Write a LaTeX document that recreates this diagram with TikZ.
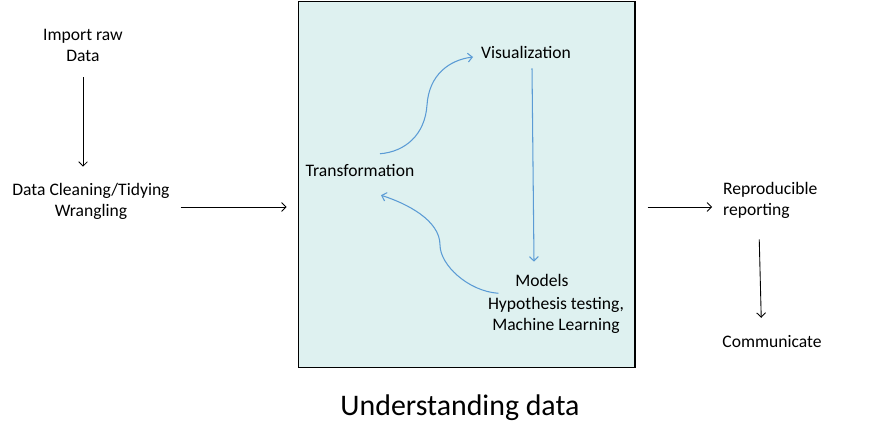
\documentclass[tikz,border=0pt]{standalone}
\usepackage{fontspec}
\setmainfont{Carlito}
\usepackage{xcolor}
\usetikzlibrary{arrows.meta,calc}
\definecolor{panelfill}{HTML}{DEF1F0}
\definecolor{loopblue}{HTML}{5B9BD5}
\tikzset{
	stage/.style={inner sep=1pt, align=center, font=\fontsize{10}{12}\selectfont},
	flow/.style={-{Straight Barb[length=2.5pt,width=5pt]}, line width=0.5pt, black},
	loopline/.style={-{Straight Barb[length=2.5pt,width=5pt]}, line width=0.6pt, loopblue},
	panel/.style={draw=black, line width=0.6pt, fill=panelfill, inner sep=0pt,
			minimum width=6.74cm, minimum height=7.34cm}
}

\begin{document}
\begin{tikzpicture}[x=0.02cm, y=-0.02cm]
			\useasboundingbox (0,0) rectangle (881,446);

			\node[panel] (box) at (466.5,184.5) {};

			\node[stage] (import) at (83,45) {Import raw\\Data};
			\node[stage] (clean) at (91,201) {Data Cleaning/Tidying\\Wrangling};
			\node[stage, anchor=west, align=left] (repro) at (721,200) {Reproducible\\reporting};
			\node[stage] (comm) at (772,342) {Communicate};

			\node[stage] (trans) at (360,170) {Transformation};
			\node[stage] (vis) at (526,52) {Visualization};
			\node[stage] (models) at (542,280) {Models};
			\node[stage] (hyp) at (556,315) {Hypothesis testing,\\Machine Learning};

			\node[font=\fontsize{17}{20}\selectfont] (title) at (460,408) {Understanding data};

			\coordinate (mid) at (0,207);

			\draw[flow]	($(import.south)+(0,14)$) to ($(import.south |- clean.north)+(0,-14)$);
			\draw[flow]	($(clean.east |- mid)+(9,0)$) to ($(box.west |- mid)+(-11,0)$);
			\draw[flow]	($(box.east |- mid)+(12,0)$) to ($(repro.west |- mid)+(-9,0)$);
			\draw[flow]	($(repro.south)+(-11,19)$) to ($(repro.south |- comm.north)+(-9,-16)$);

			\draw[loopline]	($(trans.north)+(20,-8)$) .. controls +(25,-2) and +(-2,30) .. (427,105)
								.. controls +(2,-30) and +(-24,3) .. ($(vis.west)+(-6,5)$);
			\draw[loopline]	($(vis.south)+(6,8)$) to ($(models.north)+(-8,-10)$);
			\draw[loopline]	($(models.south west)+(-15,5)$) .. controls +(-30,-2) and +(0,20) .. (440,245)
								.. controls +(0,-25) and +(25,8) .. ($(trans.south)+(21,17)$);
		\end{tikzpicture}
\end{document}
